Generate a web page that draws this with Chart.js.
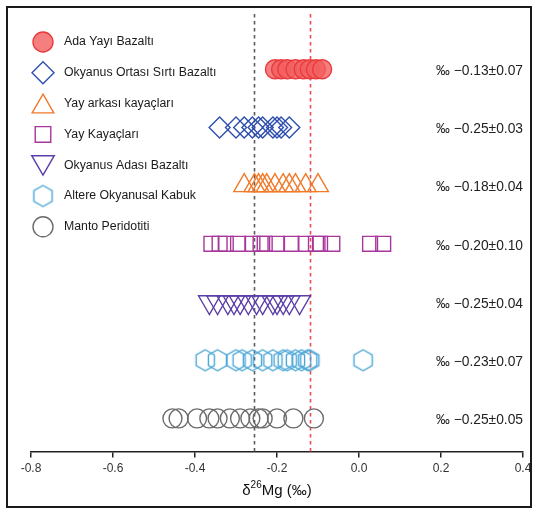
<!DOCTYPE html>
<html>
<head>
<meta charset="utf-8">
<script src="https://cdn.jsdelivr.net/npm/chart.js@4/dist/chart.umd.min.js"></script>
<style>
  html, body { margin: 0; padding: 0; background: #fff; }
</style>
</head>
<body>
<canvas id="grafico" width="538" height="512"></canvas>
<script>
// Categorias (de arriba hacia abajo)
const categorias = ['Ada Yayı Bazaltı', 'Okyanus Ortası Sırtı Bazaltı', 'Yay arkası kayaçları',
    'Yay Kayaçları', 'Okyanus Adası Bazaltı', 'Altere Okyanusal Kabuk', 'Manto Peridotiti'];

// Valores δ26Mg
const adaYayi = [-0.205, -0.19, -0.175, -0.155, -0.135, -0.12, -0.105, -0.09];
const okyanusOrtasi = [-0.34, -0.30, -0.28, -0.26, -0.245, -0.235, -0.21, -0.20, -0.19, -0.17];
const yayArkasi = [-0.28, -0.255, -0.245, -0.235, -0.225, -0.205, -0.185, -0.17, -0.155, -0.13, -0.10];
const yayKayaclari = [-0.36, -0.34, -0.325, -0.295, -0.26, -0.24, -0.23, -0.20, -0.165, -0.13, -0.105, -0.095, -0.065, 0.027, 0.059];
const okyanusAdasi = [-0.365, -0.345, -0.32, -0.305, -0.29, -0.27, -0.25, -0.235, -0.21, -0.20, -0.185, -0.17, -0.145];
const altereKabuk = [-0.375, -0.345, -0.30, -0.285, -0.26, -0.235, -0.21, -0.185, -0.175, -0.155, -0.14, -0.125, -0.12, 0.01];
const mantoPeridotit = [-0.455, -0.44, -0.395, -0.365, -0.345, -0.315, -0.29, -0.265, -0.245, -0.235, -0.20, -0.16, -0.11];

// Etiquetas de la derecha
const etiquetasDerecha = ['‰ −0.13±0.07', '‰ −0.25±0.03', '‰ −0.18±0.04', '‰ −0.20±0.10',
    '‰ −0.25±0.04', '‰ −0.23±0.07', '‰ −0.25±0.05'];

// Lineas de referencia punteadas
const lineasReferencia = [-0.255, -0.12];

// Etiquetas del eje x
const ticksEje = ['-0.8', '-0.6', '-0.4', '-0.2', '0.0', '0.2', '0.4'];

const FUENTE = '"Liberation Sans", Arial, sans-serif';

// Hexagono para la pointStyle (no existe en Chart.js)
function crearHexagono(radio, color) {
    const c = document.createElement('canvas');
    const lado = Math.ceil(radio * 2 + 4);
    c.width = lado;
    c.height = lado;
    const g = c.getContext('2d');
    g.strokeStyle = color;
    g.lineWidth = 1.4;
    g.beginPath();
    for (let i = 0; i < 6; i++) {
        const a = -Math.PI / 2 + i * Math.PI / 3;
        const px = lado / 2 + Math.cos(a) * radio;
        const py = lado / 2 + Math.sin(a) * radio;
        if (i === 0) g.moveTo(px, py); else g.lineTo(px, py);
    }
    g.closePath();
    g.stroke();
    return c;
}

const hexagono = crearHexagono(10.5, '#4ba6d6');
const hexagonoLeyenda = crearHexagono(10.5, '#4ba6d6');

const series = [adaYayi, okyanusOrtasi, yayArkasi, yayKayaclari, okyanusAdasi, altereKabuk, mantoPeridotit];
const estilos = [
    { pointStyle: 'circle', radius: 9.5, rotation: 0, borde: '#e8393c', fondo: 'rgba(242,95,95,0.8)' },
    { pointStyle: 'rectRot', radius: 10.5, rotation: 0, borde: '#2e4fae', fondo: 'rgba(0,0,0,0)' },
    { pointStyle: 'triangle', radius: 12, rotation: 0, borde: '#f07b2b', fondo: 'rgba(0,0,0,0)' },
    { pointStyle: 'rect', radius: 10.5, rotation: 0, borde: '#a8369b', fondo: 'rgba(0,0,0,0)' },
    { pointStyle: 'triangle', radius: 12.5, rotation: 180, borde: '#5b3ea8', fondo: 'rgba(0,0,0,0)' },
    { pointStyle: hexagono, radius: 10, rotation: 0, borde: '#4ba6d6', fondo: 'rgba(0,0,0,0)' },
    { pointStyle: 'circle', radius: 9.5, rotation: 0, borde: '#6b6b6b', fondo: 'rgba(0,0,0,0)' }
];

const datasets = series.map((valores, i) => ({
    label: categorias[i],
    data: valores.map(v => ({ x: v, y: 7 - i })),
    pointStyle: estilos[i].pointStyle,
    pointRadius: estilos[i].radius,
    pointRotation: estilos[i].rotation,
    pointBorderColor: estilos[i].borde,
    pointBackgroundColor: estilos[i].fondo,
    pointBorderWidth: 1.4,
    pointHoverRadius: estilos[i].radius,
    showLine: false
}));

// Marco, lineas punteadas, leyenda, etiquetas y titulo del eje
const pluginExtras = {
    id: 'extras',
    beforeDatasetsDraw(chart) {
        const { ctx, chartArea, scales } = chart;
        const colores = ['#5a5a5a', '#ec4a4e'];
        ctx.save();
        ctx.lineWidth = 1.6;
        ctx.setLineDash([3.5, 3.5]);
        lineasReferencia.forEach((v, i) => {
            const px = Math.round(scales.x.getPixelForValue(v)) + 0.5;
            ctx.strokeStyle = colores[i];
            ctx.beginPath();
            ctx.moveTo(px, chartArea.top);
            ctx.lineTo(px, chartArea.bottom);
            ctx.stroke();
        });
        ctx.restore();
    },
    afterDraw(chart) {
        const { ctx, chartArea, scales } = chart;
        ctx.save();
        // marco exterior
        ctx.strokeStyle = '#1a1a1a';
        ctx.lineWidth = 2;
        ctx.strokeRect(7, 7, 524, 500);

        // etiquetas de la derecha
        ctx.fillStyle = '#222';
        ctx.font = '13.8px ' + FUENTE;
        ctx.textAlign = 'right';
        ctx.textBaseline = 'middle';
        etiquetasDerecha.forEach((t, i) => {
            ctx.fillText(t, chartArea.right, scales.y.getPixelForValue(7 - i) + 2);
        });

        // leyenda
        ctx.textAlign = 'left';
        ctx.font = '12.3px ' + FUENTE;
        categorias.forEach((nombre, i) => {
            const y = 42 + i * 30.8;
            const e = estilos[i];
            ctx.strokeStyle = e.borde;
            ctx.fillStyle = e.fondo;
            ctx.lineWidth = 1.4;
            ctx.setLineDash([]);
            let py = y;
            if (e.pointStyle === 'triangle') py = e.rotation ? y - 3 : y + 3;
            Chart.helpers.drawPoint(ctx, {
                pointStyle: i === 5 ? hexagonoLeyenda : e.pointStyle,
                rotation: e.rotation,
                radius: e.radius + 0.5,
                borderWidth: 1.4
            }, 43, py);
            ctx.fillStyle = '#1a1a1a';
            ctx.fillText(nombre, 64, y);
        });

        // titulo del eje x con superindice
        const partes = [['δ', 15, 0], ['26', 10, -6], ['Mg (‰)', 15, 0]];
        let ancho = 0;
        partes.forEach(p => { ctx.font = p[1] + 'px ' + FUENTE; ancho += ctx.measureText(p[0]).width; });
        let tx = (chartArea.left + chartArea.right) / 2 - ancho / 2;
        const ty = 491;
        ctx.fillStyle = '#111';
        ctx.textBaseline = 'middle';
        partes.forEach(p => {
            ctx.font = p[1] + 'px ' + FUENTE;
            ctx.fillText(p[0], tx, ty + p[2]);
            tx += ctx.measureText(p[0]).width;
        });
        ctx.restore();
    }
};

const ctx = document.getElementById('grafico').getContext('2d');
const grafico = new Chart(ctx, {
    type: 'scatter',
    data: { datasets: datasets },
    options: {
        responsive: false,
        animation: false,
        layout: {
            padding: { left: 31, right: 15, top: 10, bottom: 10 }
        },
        plugins: {
            legend: { display: false },
            tooltip: { enabled: false }
        },
        scales: {
            x: {
                type: 'linear',
                min: -0.8,
                max: 0.4,
                ticks: {
                    stepSize: 0.2,
                    color: '#333',
                    font: { family: FUENTE, size: 12 },
                    padding: 4,
                    callback: (v, i) => ticksEje[i]
                },
                grid: {
                    drawOnChartArea: false,
                    drawTicks: true,
                    tickLength: 6,
                    color: '#222',
                    lineWidth: 1.5
                },
                border: { display: true, color: '#222', width: 1.5 },
                title: {
                    display: true,
                    text: ' ',
                    font: { family: FUENTE, size: 15 },
                    padding: { top: 4, bottom: 0 }
                }
            },
            y: {
                type: 'linear',
                min: 0.43,
                max: 7.95,
                display: false
            }
        }
    },
    plugins: [pluginExtras]
});
</script>
</body>
</html>
